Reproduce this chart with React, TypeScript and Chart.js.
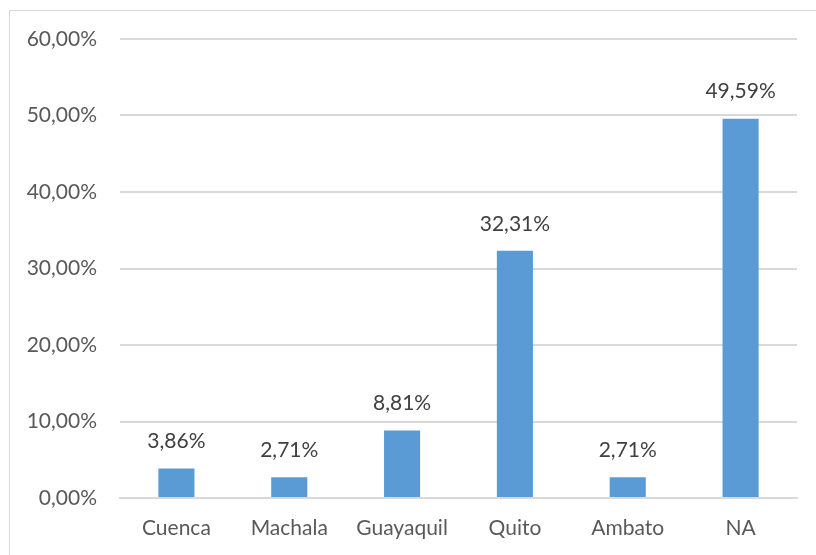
import React, { useEffect, useRef } from "react";
import { Chart, registerables } from "chart.js";

Chart.register(...registerables);

const categories = ["Cuenca", "Machala", "Guayaquil", "Quito", "Ambato", "NA"];
const values = [3.86, 2.71, 8.81, 32.31, 2.71, 49.59];
const yTicks = [0, 10, 20, 30, 40, 50, 60];

const FONT = "Lato";
const fmt = (v: number) => v.toFixed(2).replace(".", ",") + "%";

const dataLabels = {
  id: "dataLabels",
  afterDatasetsDraw(chart: any) {
    const ctx = chart.ctx;
    const meta = chart.getDatasetMeta(0);
    ctx.save();
    ctx.font = `21px ${FONT}`;
    ctx.fillStyle = "#404040";
    ctx.textAlign = "center";
    ctx.textBaseline = "middle";
    meta.data.forEach((bar: any, i: number) => {
      ctx.fillText(fmt(values[i]), bar.x, bar.y - 27);
    });
    ctx.restore();
  },
};

export default function App() {
  const ref = useRef<HTMLCanvasElement | null>(null);
  useEffect(() => {
    if (!ref.current) return;
    const chart = new Chart(ref.current, {
      type: "bar",
      data: {
        labels: categories,
        datasets: [
          {
            data: values,
            backgroundColor: "#5B9BD5",
            categoryPercentage: 1,
            barPercentage: 0.32,
          },
        ],
      },
      options: {
        animation: false,
        responsive: false,
        maintainAspectRatio: false,
        layout: { padding: { left: 0, right: 19, top: 39, bottom: 0 } },
        plugins: { legend: { display: false }, tooltip: { enabled: false } },
        scales: {
          x: {
            grid: { display: false, drawTicks: false },
            border: { display: true, color: "#d9d9d9", width: 2 },
            ticks: {
              color: "#595959",
              font: { family: FONT, size: 21 },
              padding: 18,
              maxRotation: 0,
            },
            afterFit: (s: any) => {
              s.height = 57;
            },
          },
          y: {
            min: 0,
            max: 60,
            afterBuildTicks: (s: any) => {
              s.ticks = yTicks.map((v) => ({ value: v }));
            },
            grid: { color: "#d9d9d9", lineWidth: 2, drawTicks: false },
            border: { display: false },
            ticks: {
              color: "#595959",
              font: { family: FONT, size: 21 },
              padding: 23,
              callback: (v: any) => fmt(Number(v)),
            },
            afterFit: (s: any) => {
              s.width = 120;
            },
          },
        },
      },
      plugins: [dataLabels],
    });
    return () => chart.destroy();
  }, []);
  return (
    <div style={{ position: "absolute", left: 0, top: 0, width: 816, height: 555, background: "#fff", overflow: "hidden" }}>
      <div
        style={{
          position: "absolute",
          left: 9,
          top: 10,
          width: 900,
          height: 700,
          border: "1px solid #d9d9d9",
          boxSizing: "border-box",
        }}
      />
      <canvas ref={ref} width={816} height={555} style={{ position: "absolute", left: 0, top: 0 }} />
    </div>
  );
}
